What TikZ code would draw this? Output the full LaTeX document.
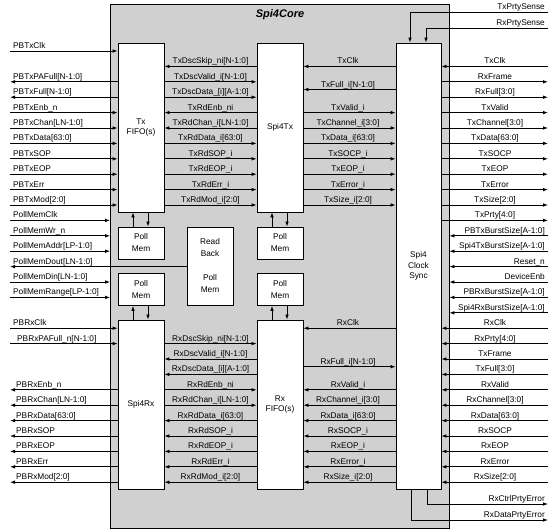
\documentclass[tikz,border=0pt]{standalone}
\usepackage{fontspec}
\setmainfont{Liberation Sans}
\usetikzlibrary{arrows.meta}
\definecolor{coregray}{RGB}{208,208,208}
\newcommand\lblsize{\fontsize{8.3}{10}\selectfont}
\newcommand\boxsize{\fontsize{8.3}{9.5}\selectfont}
\newcommand\pmsize{\fontsize{8.3}{12}\selectfont}
\begin{document}
\begin{tikzpicture}[x=1pt,y=-1pt,
  lw/.style={line width=0.8pt},
  corebox/.style={draw, lw, fill=coregray, minimum width=338.5pt, minimum height=524pt, inner sep=0pt},
  blk/.style={draw, lw, fill=white, inner sep=0pt, align=center, font=\boxsize},
  blkA/.style={blk, minimum width=46pt, minimum height=169pt},
  pm/.style={blk, minimum width=46pt, minimum height=32pt, font=\pmsize},
  arR/.style={lw, -{Latex[length=5pt,width=3.6pt]}},
  arL/.style={lw, {Latex[length=5pt,width=3.6pt]}-},
  lbl/.style={font=\lblsize, inner sep=0pt},
]
\useasboundingbox (0,0) rectangle (559,531);
\node[corebox] (core) at (279.75,266) {};
\node[font=\fontsize{11}{13}\selectfont\bfseries\itshape, anchor=base, inner sep=0pt] (title) at (280,17.5) {Spi4Core};

% blocks
\node[blkA] (txfifo) at (141,127.5) {Tx\\FIFO(s)};
\node[blkA] (spitx) at (280,127.5) {Spi4Tx};
\node[blkA] (spirx) at (141,404.5) {Spi4Rx};
\node[blkA] (rxfifo) at (280,404.5) {Rx\\FIFO(s)};
\node[blk, minimum width=45pt, minimum height=446pt, font=\fontsize{8.3}{10.5}\selectfont] (sync) at (418.5,266) {Spi4\\Clock\\Sync};
\node[pm] (pmtl) at (141,243) {Poll\\Mem};
\node[pm] (pmtc) at (280,243) {Poll\\Mem};
\node[pm] (pmrl) at (141,289.5) {Poll\\Mem};
\node[pm] (pmrc) at (280,289.5) {Poll\\Mem};
\node[blk, minimum width=46pt, minimum height=78pt, font=\pmsize] (rb) at (210,266) {Read\\Back\\[12pt]Poll\\Mem};

% left Tx side
\foreach \k/\s/\t [count=\i] in {0/arR/PBTxClk, 2/arL/{PBTxPAFull[N-1:0]}, 3/arL/{PBTxFull[N-1:0]}, 4/arR/{PBTxEnb\_n}, 5/arR/{PBTxChan[LN-1:0]}, 6/arR/{PBTxData[63:0]}, 7/arR/PBTxSOP, 8/arR/PBTxEOP, 9/arR/PBTxErr, 10/arR/{PBTxMod[2:0]}} {
  \pgfmathsetmacro\yy{51+15.4*\k}
  \coordinate (ta\i) at (10,\yy);
  \draw[\s] (ta\i) -- (txfifo.west |- ta\i);
  \node[lbl, anchor=base west] (tal\i) at (13,\yy-2.5) {\t};
}
% poll mem signals
\foreach \k/\t [count=\i] in {11/PollMemClk, 12/{PollMemWr\_n}, 13/{PollMemAddr[LP-1:0]}, 15/{PollMemDin[LN-1:0]}, 16/{PollMemRange[LP-1:0]}} {
  \pgfmathsetmacro\yy{51+15.4*\k}
  \coordinate (pb\i) at (10,\yy);
  \draw[arR] (pb\i) -- (core.west |- pb\i);
  \node[lbl, anchor=base west] (pbl\i) at (13,\yy-2.5) {\t};
}
\coordinate (pdout) at (10,266.6);
\draw[arL] (pdout) -- (rb.west |- pdout);
\node[lbl, anchor=base west] (pdoutl) at (13,264.1) {PollMemDout[LN-1:0]};

% left Rx side
\foreach \k/\s/\x/\t [count=\i] in {18/arR/13/PBRxClk, 19/arR/17/{PBRxPAFull\_n[N-1:0]}, 22/arL/16/{PBRxEnb\_n}, 23/arL/16/{PBRxChan[LN-1:0]}, 24/arL/16/{PBRxData[63:0]}, 25/arL/16/PBRxSOP, 26/arL/16/PBRxEOP, 27/arL/16/PBRxErr, 28/arL/16/{PBRxMod[2:0]}} {
  \pgfmathsetmacro\yy{51+15.4*\k}
  \coordinate (rc\i) at (10,\yy);
  \draw[\s] (rc\i) -- (spirx.west |- rc\i);
  \node[lbl, anchor=base west] (rcl\i) at (\x,\yy-2.5) {\t};
}

% Tx FIFO <-> Spi4Tx
\foreach \k/\s/\t [count=\i] in {1/arL/{TxDscSkip\_ni[N-1:0]}, 2/arR/{TxDscValid\_i[N-1:0]}, 3/arR/{TxDscData\_[i][A-1:0]}, 4/arL/{TxRdEnb\_ni}, 5/arL/{TxRdChan\_i[LN-1:0]}, 6/arR/{TxRdData\_i[63:0]}, 7/arR/{TxRdSOP\_i}, 8/arR/{TxRdEOP\_i}, 9/arR/{TxRdErr\_i}, 10/arR/{TxRdMod\_i[2:0]}} {
  \pgfmathsetmacro\yy{51+15.4*\k}
  \draw[\s] (txfifo.east |- 0,\yy) -- (spitx.west |- 0,\yy);
  \node[lbl, anchor=base] (tdl\i) at (210.5,\yy-2.5) {\t};
}
% Spi4Tx <-> Sync
\foreach \k/\s/\t [count=\i] in {1/arL/TxClk, 2.5/arL/{TxFull\_i[N-1:0]}, 4/arR/{TxValid\_i}, 5/arR/{TxChannel\_i[3:0]}, 6/arR/{TxData\_i[63:0]}, 7/arR/{TxSOCP\_i}, 8/arR/{TxEOP\_i}, 9/arR/{TxError\_i}, 10/arR/{TxSize\_i[2:0]}} {
  \pgfmathsetmacro\yy{51+15.4*\k}
  \draw[\s] (spitx.east |- 0,\yy) -- (sync.west |- 0,\yy);
  \node[lbl, anchor=base] (tel\i) at (348,\yy-2.5) {\t};
}
% Spi4Rx <-> Rx FIFO
\foreach \k/\s/\t [count=\i] in {19/arR/{RxDscSkip\_ni[N-1:0]}, 20/arL/{RxDscValid\_i[N-1:0]}, 21/arL/{RxDscData\_[i][A-1:0]}, 22/arR/{RxRdEnb\_ni}, 23/arR/{RxRdChan\_i[LN-1:0]}, 24/arL/{RxRdData\_i[63:0]}, 25/arL/{RxRdSOP\_i}, 26/arL/{RxRdEOP\_i}, 27/arL/{RxRdErr\_i}, 28/arL/{RxRdMod\_i[2:0]}} {
  \pgfmathsetmacro\yy{51+15.4*\k}
  \draw[\s] (spirx.east |- 0,\yy) -- (rxfifo.west |- 0,\yy);
  \node[lbl, anchor=base] (rhl\i) at (210.5,\yy-2.5) {\t};
}
% Rx FIFO <-> Sync
\foreach \k/\s/\t [count=\i] in {18/arL/RxClk, 20.5/arR/{RxFull\_i[N-1:0]}, 22/arL/{RxValid\_i}, 23/arL/{RxChannel\_i[3:0]}, 24/arL/{RxData\_i[63:0]}, 25/arL/{RxSOCP\_i}, 26/arL/{RxEOP\_i}, 27/arL/{RxError\_i}, 28/arL/{RxSize\_i[2:0]}} {
  \pgfmathsetmacro\yy{51+15.4*\k}
  \draw[\s] (rxfifo.east |- 0,\yy) -- (sync.west |- 0,\yy);
  \node[lbl, anchor=base] (ril\i) at (348,\yy-2.5) {\t};
}
% Sync <-> right edge
\foreach \k/\s/\t [count=\i] in {1/arL/TxClk, 2/arR/RxFrame, 3/arR/{RxFull[3:0]}, 4/arR/TxValid, 5/arR/{TxChannel[3:0]}, 6/arR/{TxData[63:0]}, 7/arR/TxSOCP, 8/arR/TxEOP, 9/arR/TxError, 10/arR/{TxSize[2:0]}, 11/arR/{TxPrty[4:0]}, 18/arL/RxClk, 19/arL/{RxPrty[4:0]}, 20/arL/TxFrame, 21/arL/{TxFull[3:0]}, 22/arL/RxValid, 23/arL/{RxChannel[3:0]}, 24/arL/{RxData[63:0]}, 25/arL/RxSOCP, 26/arL/RxEOP, 27/arL/RxError, 28/arL/{RxSize[2:0]}} {
  \pgfmathsetmacro\yy{51+15.4*\k}
  \coordinate (rf\i) at (548,\yy);
  \draw[\s] (sync.east |- rf\i) -- (rf\i);
  \node[lbl, anchor=base] (rfl\i) at (495,\yy-2.5) {\t};
}
% core edge <-> right edge
\foreach \k/\t [count=\i] in {12/{PBTxBurstSize[A-1:0]}, 13/{Spi4TxBurstSize[A-1:0]}, 14/{Reset\_n}, 15/DeviceEnb, 16/{PBRxBurstSize[A-1:0]}, 17/{Spi4RxBurstSize[A-1:0]}} {
  \pgfmathsetmacro\yy{51+15.4*\k}
  \coordinate (rg\i) at (548,\yy);
  \draw[arL] (core.east |- rg\i) -- (rg\i);
  \node[lbl, anchor=base east] (rgl\i) at (545,\yy-2.5) {\t};
}

% parity sense (top)
\coordinate (tps) at (548,12);
\coordinate (rps) at (548,28);
\draw[arR] (tps) -| (sync.north -| 410,0);
\draw[arR] (rps) -| (sync.north -| 426,0);
\node[lbl, anchor=base east] (tpsl) at (545,9.5) {TxPrtySense};
\node[lbl, anchor=base east] (rpsl) at (545,25.5) {RxPrtySense};

% parity errors (bottom)
\coordinate (cpe) at (548,504);
\coordinate (dpe) at (548,520);
\draw[arR] (sync.south -| 427,0) |- (cpe);
\draw[arR] (sync.south -| 411,0) |- (dpe);
\node[lbl, anchor=base east] (cpel) at (545,501.5) {RxCtrlPrtyError};
\node[lbl, anchor=base east] (dpel) at (545,517.5) {RxDataPrtyError};

% poll mem vertical links
\draw[arR] (pmtl.north -| 133,0) -- (txfifo.south -| 133,0);
\draw[arR] (txfifo.south -| 148,0) -- (pmtl.north -| 148,0);
\draw[arR] (pmtc.north -| 272,0) -- (spitx.south -| 272,0);
\draw[arR] (spitx.south -| 287,0) -- (pmtc.north -| 287,0);
\draw[arR] (spirx.north -| 133,0) -- (pmrl.south -| 133,0);
\draw[arR] (pmrl.south -| 148,0) -- (spirx.north -| 148,0);
\draw[arR] (rxfifo.north -| 272,0) -- (pmrc.south -| 272,0);
\draw[arR] (pmrc.south -| 287,0) -- (rxfifo.north -| 287,0);
\end{tikzpicture}
\end{document}
